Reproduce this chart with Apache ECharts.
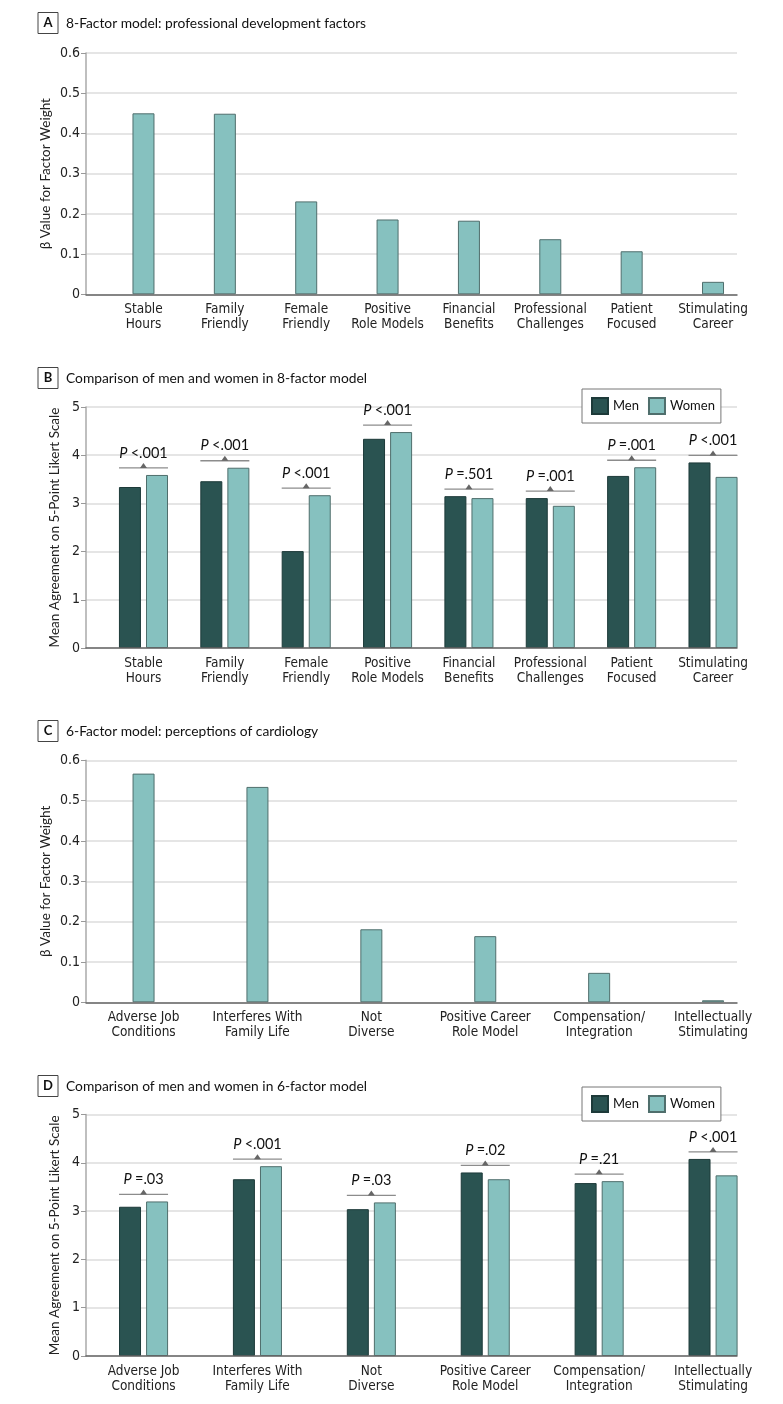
<!DOCTYPE html>
<html><head><meta charset="utf-8">
<script src="https://cdn.jsdelivr.net/npm/echarts@6/dist/echarts.min.js"></script>
<style>html,body{margin:0;padding:0;background:#fff}#c{width:783px;height:1404px}</style>
</head><body><div id="c"></div>
<script>
// ---- data ----
const catsA = ['Stable\nHours','Family\nFriendly','Female\nFriendly','Positive\nRole Models','Financial\nBenefits','Professional\nChallenges','Patient\nFocused','Stimulating\nCareer'];
const betaA = [0.450, 0.449, 0.231, 0.186, 0.183, 0.137, 0.107, 0.031];
const menB = [3.34, 3.46, 2.01, 4.34, 3.15, 3.11, 3.57, 3.85];
const womenB = [3.59, 3.74, 3.17, 4.48, 3.11, 2.95, 3.75, 3.55];
const pB = ['<.001','<.001','<.001','<.001','=.501','=.001','=.001','<.001'];
const catsC = ['Adverse Job\nConditions','Interferes With\nFamily Life','Not\nDiverse','Positive Career\nRole Model','Compensation/\nIntegration','Intellectually\nStimulating'];
const betaC = [0.567, 0.534, 0.181, 0.164, 0.073, 0.005];
const menD = [3.09, 3.66, 3.04, 3.80, 3.58, 4.08];
const womenD = [3.20, 3.93, 3.18, 3.66, 3.62, 3.74];
const pD = ['=.03','<.001','=.03','=.02','=.21','<.001'];
const titles = ['8-Factor model: professional development factors','Comparison of men and women in 8-factor model','6-Factor model: perceptions of cardiology','Comparison of men and women in 6-factor model'];
const letters = ['A','B','C','D'];
const yTitles = ['\u03b2 Value for Factor Weight','Mean Agreement on 5-Point Likert Scale','\u03b2 Value for Factor Weight','Mean Agreement on 5-Point Likert Scale'];

// ---- style ----
const FN = 'Lato, "Liberation Sans", sans-serif';
const FC = '"Liberation Sans Narrow", "DejaVu Sans Condensed", Lato, sans-serif';
const LIGHT = '#86c1bf', LIGHT_B = '#4f6e6c', DARK = '#2a5351', DARK_B = '#1d3a39';
const panels = [
  {top:53, h:241.3, bl:102.8, bw:650.9, ymax:0.6, yint:0.1, cats:catsA},
  {top:407, h:241, bl:102.8, bw:650.9, ymax:5, yint:1, cats:catsA},
  {top:760.3, h:242, bl:86.6, bw:683.4, ymax:0.6, yint:0.1, cats:catsC},
  {top:1114.5, h:241.5, bl:86.6, bw:683.4, ymax:5, yint:1, cats:catsC}
];
const titleY = [23, 378, 731, 1086];

const grid = [], xAxis = [], yAxis = [], series = [], graphic = [];
panels.forEach((p, k) => {
  grid.push({left:86, top:p.top, width:651, height:p.h});
  grid.push({left:p.bl, top:p.top, width:p.bw, height:p.h});
  xAxis.push({gridIndex:2*k, type:'value', min:0, max:1, z:5,
    axisLine:{show:true, lineStyle:{color:'#666', width:1.5}}, axisTick:{show:false}, axisLabel:{show:false}, splitLine:{show:false}});
  xAxis.push({gridIndex:2*k+1, type:'category', data:p.cats,
    axisLine:{show:false}, axisTick:{show:false},
    axisLabel:{interval:0, margin:8, fontFamily:FC, fontSize:13.5, lineHeight:15, color:'#222'}});
  yAxis.push({gridIndex:2*k, type:'value', min:0, max:p.ymax, interval:p.yint,
    axisLine:{show:true, lineStyle:{color:'#aaa', width:1.5}},
    axisTick:{show:true, length:5, lineStyle:{color:'#999'}},
    axisLabel:{margin:6, fontFamily:FC, fontSize:14, color:'#222', formatter: v => (p.yint<1 && v!==0) ? v.toFixed(1) : String(Math.round(v))},
    splitLine:{show:true, lineStyle:{color:'#dcdcdc', width:1.5}}});
  yAxis.push({gridIndex:2*k+1, type:'value', min:0, max:p.ymax, interval:p.yint, show:false});
  graphic.push({type:'rect', shape:{x:38, y:titleY[k]-10.5, width:20, height:21}, style:{fill:'#fff', stroke:'#444', lineWidth:1}});
  graphic.push({type:'text', x:48, y:titleY[k], style:{text:letters[k], font:'bold 13px '+FN, fill:'#111', align:'center', verticalAlign:'middle'}});
  graphic.push({type:'text', x:66, y:titleY[k]+1, style:{text:titles[k], font:'13.8px '+FN, fill:'#111', align:'left', verticalAlign:'middle'}});
  graphic.push({type:'text', x:(k%2===0?46:54.5), y:p.top+p.h/2, rotation:Math.PI/2,
    style:{text:yTitles[k], font:'13.5px '+FN, fill:'#222', align:'center', verticalAlign:'middle'}});
});

function pSeries(k, men, women, labels){
  const data = men.map((m,i) => [i, Math.max(m, women[i])]);
  return {type:'custom', xAxisIndex:2*k+1, yAxisIndex:2*k+1, data:data, z:6,
    renderItem:(params, api) => {
      const pt = api.coord([api.value(0), api.value(1)]);
      const x = pt[0], y = pt[1] - 7;
      return {type:'group', children:[
        {type:'line', shape:{x1:x-24.5, y1:y, x2:x+24.5, y2:y}, style:{stroke:'#8c8c8c', lineWidth:1.3}},
        {type:'polygon', shape:{points:[[x-3.5,y],[x+3.5,y],[x,y-5]]}, style:{fill:'#666'}},
        {type:'text', x:x, y:y-15, style:{text:'{i|P} {n|'+labels[params.dataIndex]+'}', align:'center', verticalAlign:'middle',
          rich:{i:{fontFamily:FN, fontSize:14.5, fontStyle:'italic', fill:'#111', color:'#111'}, n:{fontFamily:FN, fontSize:14.5, fill:'#111', color:'#111'}}}}
      ]};
    }};
}

series.push({type:'bar', xAxisIndex:1, yAxisIndex:1, data:betaA, barWidth:22,
  itemStyle:{color:LIGHT, borderColor:LIGHT_B, borderWidth:1}});
series.push({name:'Men', type:'bar', xAxisIndex:3, yAxisIndex:3, data:menB, barWidth:22, barGap:'23%',
  itemStyle:{color:DARK, borderColor:DARK_B, borderWidth:1}});
series.push({name:'Women', type:'bar', xAxisIndex:3, yAxisIndex:3, data:womenB, barWidth:22, barGap:'23%',
  itemStyle:{color:LIGHT, borderColor:LIGHT_B, borderWidth:1}});
series.push(pSeries(1, menB, womenB, pB));
series.push({type:'bar', xAxisIndex:5, yAxisIndex:5, data:betaC, barWidth:22,
  itemStyle:{color:LIGHT, borderColor:LIGHT_B, borderWidth:1}});
series.push({name:'Men', type:'bar', xAxisIndex:7, yAxisIndex:7, data:menD, barWidth:22, barGap:'23%',
  itemStyle:{color:DARK, borderColor:DARK_B, borderWidth:1}});
series.push({name:'Women', type:'bar', xAxisIndex:7, yAxisIndex:7, data:womenD, barWidth:22, barGap:'23%',
  itemStyle:{color:LIGHT, borderColor:LIGHT_B, borderWidth:1}});
series.push(pSeries(3, menD, womenD, pD));

const legendCommon = {data:['Men','Women'], icon:'rect', itemWidth:16, itemHeight:16, itemGap:9,
  padding:[8,6,8,9], borderColor:'#777', borderWidth:1, backgroundColor:'#fff', selectedMode:false,
  textStyle:{fontFamily:FN, fontSize:13, color:'#111'}};
const legend = [Object.assign({left:582, top:389}, legendCommon), Object.assign({left:582, top:1087}, legendCommon)];

const chart = echarts.init(document.getElementById('c'), null, {renderer:'canvas'});
chart.setOption({animation:false, backgroundColor:'#fff', grid, xAxis, yAxis, series, legend, graphic});
</script>
</body></html>
